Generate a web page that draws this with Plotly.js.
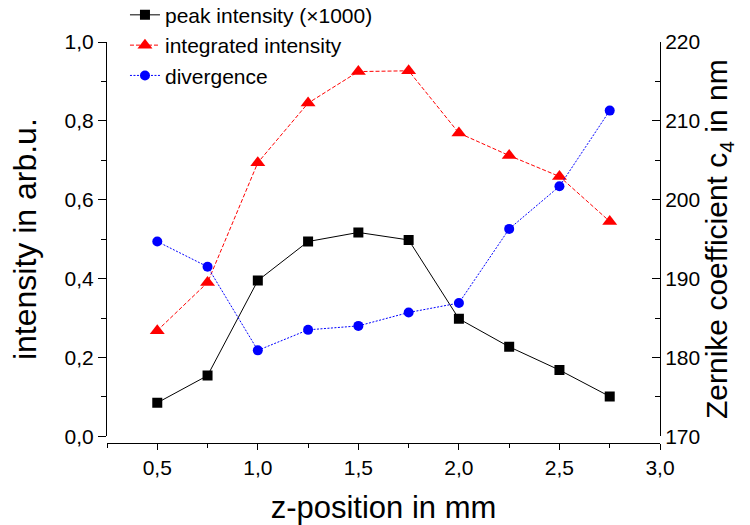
<!DOCTYPE html>
<html>
<head>
<meta charset="utf-8">
<script src="https://cdn.plot.ly/plotly-3.0.1.min.js"></script>
<style>html,body{margin:0;padding:0;background:#fff;}#chart{width:750px;height:525px;}</style>
</head>
<body>
<div id="chart"></div>
<script>
const zPosition = [0.5, 0.75, 1.0, 1.25, 1.5, 1.75, 2.0, 2.25, 2.5, 2.75];
const peakIntensity = [0.085, 0.154, 0.395, 0.494, 0.517, 0.498, 0.298, 0.227, 0.168, 0.101];
const integratedIntensity = [0.268, 0.390, 0.694, 0.845, 0.925, 0.927, 0.769, 0.712, 0.659, 0.545];
const divergence = [194.7, 191.5, 180.9, 183.5, 184.0, 185.7, 186.9, 196.3, 201.7, 211.3];
const seriesNames = ['peak intensity (\u00d71000)', 'integrated intensity', 'divergence'];

const FONT = 'Liberation Sans, Arial, sans-serif';

const traces = [
  {x: zPosition, y: peakIntensity, name: seriesNames[0], type: 'scatter', mode: 'lines+markers',
   line: {color: '#000000', width: 1}, marker: {symbol: 'square', size: 10, color: '#000000'}, yaxis: 'y'},
  {x: zPosition, y: integratedIntensity, name: seriesNames[1], type: 'scatter', mode: 'lines+markers',
   line: {color: '#ff0000', width: 1, dash: '4px,2px'}, marker: {symbol: 'triangle-up', size: 13, color: '#ff0000'}, yaxis: 'y'},
  {x: zPosition, y: divergence, name: seriesNames[2], type: 'scatter', mode: 'lines+markers',
   line: {color: '#0000ff', width: 1, dash: '2px,1.5px'}, marker: {symbol: 'circle', size: 10, color: '#0000ff'}, yaxis: 'y2'}
];

const axisCommon = {
  showgrid: false, zeroline: false, showline: true, linecolor: '#000', linewidth: 1,
  ticks: 'outside', ticklen: 8, tickwidth: 1, tickcolor: '#000',
  tickfont: {family: FONT, size: 21, color: '#000'}
};
const titleFont = {family: FONT, size: 30, color: '#000'};

const layout = {
  width: 750, height: 525,
  margin: {l: 107, r: 90, t: 42, b: 82, autoexpand: false},
  paper_bgcolor: '#fff', plot_bgcolor: '#fff',
  separators: ',.',
  font: {family: FONT, color: '#000'},
  showlegend: true,
  legend: {x: 0.0325, y: 1.118, xanchor: 'left', yanchor: 'top', bgcolor: 'rgba(0,0,0,0)',
           font: {family: FONT, size: 21, color: '#000'}, tracegroupgap: 0},
  xaxis: Object.assign({}, axisCommon, {
    range: [0.25, 3.0], tick0: 0.5, dtick: 0.5, tickformat: '.1f', ticklen: 6,
    anchor: 'free', position: 0,
    minor: {dtick: 0.25, ticks: 'outside', ticklen: 4, tickcolor: '#000', tickwidth: 1},
    title: {text: 'z-position in mm', font: {family: FONT, size: 31, color: '#000'}, standoff: 19}
  }),
  yaxis: Object.assign({}, axisCommon, {
    range: [0, 1.0], domain: [0.0167, 1], dtick: 0.2, tick0: 0, tickformat: '.1f',
    minor: {dtick: 0.1, ticks: 'outside', ticklen: 5, tickcolor: '#000', tickwidth: 1},
    title: {text: 'intensity in arb.u.', font: {family: FONT, size: 32, color: '#000'}, standoff: 18}
  }),
  yaxis2: Object.assign({}, axisCommon, {
    range: [170, 220], overlaying: 'y', side: 'right', anchor: 'x', dtick: 10, tick0: 170,
    ticks: 'inside', ticklen: 8,
    minor: {dtick: 5, ticks: 'inside', ticklen: 5, tickcolor: '#000', tickwidth: 1},
    title: {text: 'Zernike coefficient c<sub>4</sub> in nm', font: titleFont, standoff: 4}
  })
};

Plotly.newPlot('chart', traces, layout, {displayModeBar: false, staticPlot: true});
</script>
</body>
</html>
